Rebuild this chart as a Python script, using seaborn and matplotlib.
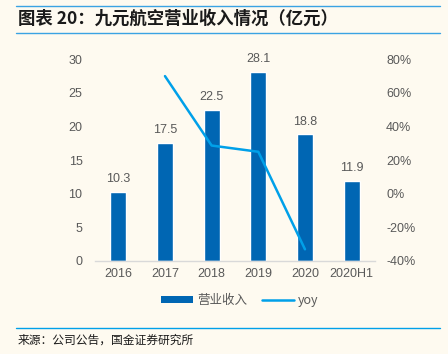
import numpy as np
import pandas as pd
import matplotlib
matplotlib.use("Agg")
import matplotlib.pyplot as plt
import seaborn as sns
from matplotlib.patches import Patch
from matplotlib.lines import Line2D
from matplotlib.ticker import FuncFormatter, MultipleLocator

categories = ["2016", "2017", "2018", "2019", "2020", "2020H1"]
revenue = [10.3, 17.5, 22.5, 28.1, 18.8, 11.9]
yoy = [np.nan, 69.9, 28.6, 24.9, -33.1, np.nan]

title = "图表 20：九元航空营业收入情况（亿元）"
source = "来源：公司公告，国金证券研究所"

BG = "#FEFAF0"
BAR = "#0066B3"
LINE = "#00A0E9"
GRAY = "#595959"

sns.set_theme(style="white")
plt.rcParams["font.family"] = ["Liberation Sans", "Noto Sans CJK SC", "DejaVu Sans"]

fig = plt.figure(figsize=(4.48, 3.54), dpi=100, facecolor=BG)
ax = fig.add_axes([0.212, 0.263, 0.625, 0.570])
ax.set_facecolor(BG)

df = pd.DataFrame({"cat": categories, "rev": revenue, "yoy": yoy,
                   "pos": np.arange(len(categories))})

sns.barplot(data=df, x="cat", y="rev", color=BAR, width=0.34, saturation=1,
            ax=ax, order=categories)
ax.set_ylim(0, 30)
ax.yaxis.set_major_locator(MultipleLocator(5))
ax.set_xlim(-0.5, len(categories) - 0.5)
ax.set_xlabel("")
ax.set_ylabel("")
for s in ["top", "right", "left"]:
    ax.spines[s].set_visible(False)
ax.spines["bottom"].set_color("#D9D9D9")
ax.spines["bottom"].set_linewidth(1.0)
ax.tick_params(axis="y", length=0, labelsize=9, labelcolor=GRAY, pad=9)
ax.tick_params(axis="x", length=0, labelsize=9, labelcolor=GRAY, pad=5)
ax.set_xticks(np.arange(len(categories)) + 0.5, minor=True)
ax.tick_params(axis="x", which="minor", direction="in", length=3, color="#D9D9D9")

for c in ax.containers:
    ax.bar_label(c, labels=[f"{v:.1f}" for v in revenue], padding=5,
                 fontsize=9, color=GRAY)

ax2 = ax.twinx()
sns.lineplot(data=df.dropna(), x="pos", y="yoy", color=LINE, linewidth=1.8, ax=ax2)
ax2.set_ylim(-40, 80)
ax2.yaxis.set_major_locator(MultipleLocator(20))
ax2.yaxis.set_major_formatter(FuncFormatter(lambda v, p: f"{v:.0f}%"))
ax2.set_xlim(-0.5, len(categories) - 0.5)
ax2.set_xlabel("")
ax2.set_ylabel("")
for s in ["top", "right", "left", "bottom"]:
    ax2.spines[s].set_visible(False)
ax2.tick_params(axis="y", length=0, labelsize=9, labelcolor=GRAY, pad=8)

handles = [Patch(facecolor=BAR, edgecolor="none"),
           Line2D([0], [0], color=LINE, linewidth=1.8)]
fig.legend(handles, ["营业收入", "yoy"], loc="center", bbox_to_anchor=(0.535, 0.152),
           ncol=2, frameon=False, labelcolor=GRAY,
           handlelength=2.6, handleheight=0.45, columnspacing=1.2, handletextpad=0.3,
           prop={"family": ["Noto Sans CJK SC"], "size": 9})

fig.add_artist(Line2D([16/448, 440/448], [1-6/354, 1-6/354], color="#3AA3E3", linewidth=1.0))
fig.add_artist(Line2D([16/448, 440/448], [1-33/354, 1-33/354], color="#3AA3E3", linewidth=1.0))
fig.text(18/448, 1-19/354, title, fontsize=12.5, fontweight="bold", style="italic",
         va="center", ha="left", color="#1a1a1a",
         family=["Noto Sans CJK SC", "DejaVu Sans"])
fig.add_artist(Line2D([16/448, 440/448], [1-328/354, 1-328/354], color="#00A0E9", linewidth=1.0))
fig.text(18/448, 1-340/354, source, fontsize=8.5, va="center", ha="left", color="#1a1a1a",
         family=["Noto Sans CJK SC", "DejaVu Sans"])

fig.savefig("out.png", dpi=100, facecolor=BG)
